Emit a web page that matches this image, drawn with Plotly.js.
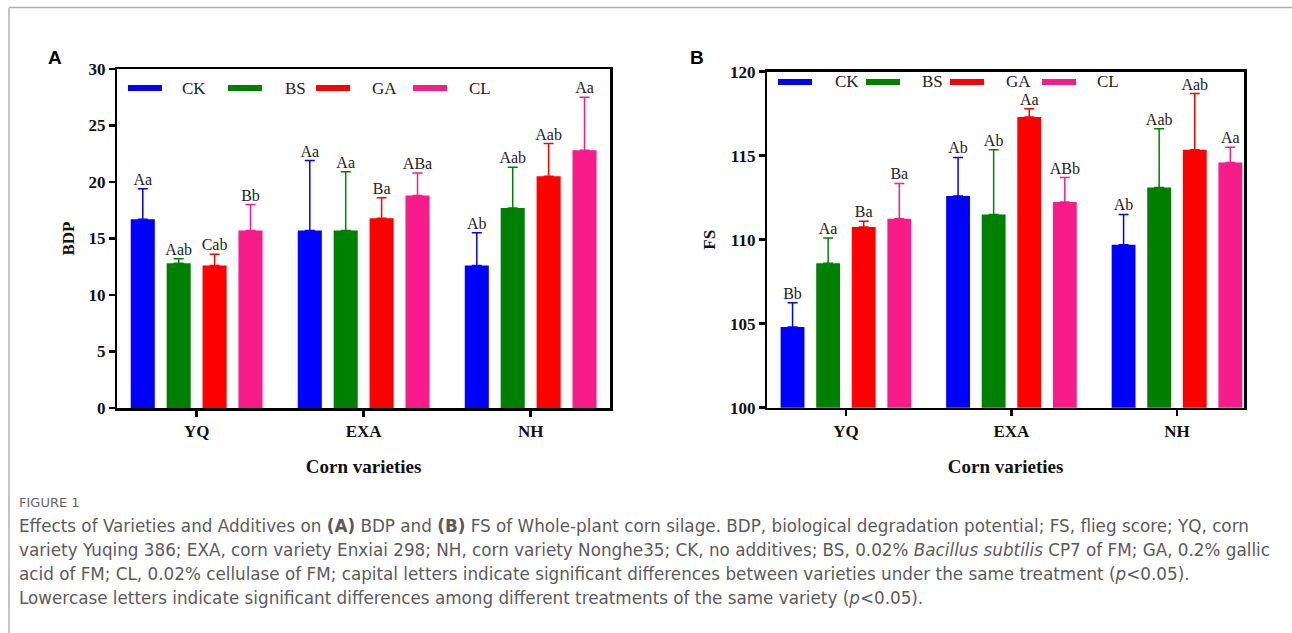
<!DOCTYPE html>
<html><head><meta charset="utf-8">
<script src="https://cdn.plot.ly/plotly-3.0.1.min.js"></script>
<style>html,body{margin:0;padding:0;background:#fff;}#chart{width:1292px;height:633px;}</style>
</head><body><div id="chart"></div>
<script>
// ---------- data ----------
const categories = ['YQ', 'EXA', 'NH'];
const treatments = ['CK', 'BS', 'GA', 'CL'];
const colors = ['#0000FF', '#008000', '#FF0000', '#F81B8A'];

// Panel A: BDP (mean and upper error)
const bdpCK = [16.7, 15.7, 12.6];   const bdpCKsd = [2.7, 6.2, 2.9];
const bdpBS = [12.8, 15.7, 17.7];   const bdpBSsd = [0.4, 5.2, 3.6];
const bdpGA = [12.6, 16.8, 20.5];   const bdpGAsd = [1.0, 1.8, 2.9];
const bdpCL = [15.7, 18.8, 22.8];   const bdpCLsd = [2.3, 2.0, 4.7];
const bdpCKlet = ['Aa', 'Aa', 'Ab'];
const bdpBSlet = ['Aab', 'Aa', 'Aab'];
const bdpGAlet = ['Cab', 'Ba', 'Aab'];
const bdpCLlet = ['Bb', 'ABa', 'Aa'];

// Panel B: FS
const fsCK = [104.8, 112.6, 109.7];  const fsCKsd = [1.45, 2.3, 1.8];
const fsBS = [108.6, 111.5, 113.1];  const fsBSsd = [1.5, 3.85, 3.5];
const fsGA = [110.75, 117.3, 115.35]; const fsGAsd = [0.35, 0.5, 3.35];
const fsCL = [111.25, 112.25, 114.6]; const fsCLsd = [2.1, 1.45, 0.9];
const fsCKlet = ['Bb', 'Ab', 'Ab'];
const fsBSlet = ['Aa', 'Ab', 'Aab'];
const fsGAlet = ['Ba', 'Aa', 'Aab'];
const fsCLlet = ['Ba', 'ABb', 'Aa'];

// ---------- build ----------
const W = 1292, H = 633;
const px = v => v / W;
const py = v => 1 - v / H;
const SERIF = 'Liberation Serif, Times New Roman, serif';

const panels = [
  {xa: 'x', ya: 'y', means: [bdpCK, bdpBS, bdpGA, bdpCL], sds: [bdpCKsd, bdpBSsd, bdpGAsd, bdpCLsd],
   lets: [bdpCKlet, bdpBSlet, bdpGAlet, bdpCLlet], grp: 'A'},
  {xa: 'x2', ya: 'y2', means: [fsCK, fsBS, fsGA, fsCL], sds: [fsCKsd, fsBSsd, fsGAsd, fsCLsd],
   lets: [fsCKlet, fsBSlet, fsGAlet, fsCLlet], grp: 'B'}
];

const traces = [];
panels.forEach(p => {
  treatments.forEach((t, i) => {
    traces.push({
      type: 'bar', name: t, x: categories, y: p.means[i],
      xaxis: p.xa, yaxis: p.ya, offsetgroup: t, alignmentgroup: p.grp,
      marker: {color: colors[i], line: {width: 0}},
      error_y: {type: 'data', symmetric: false, array: p.sds[i], arrayminus: p.sds[i].map(() => 0),
                color: colors[i], thickness: 1.5, width: 5},
      showlegend: false, hoverinfo: 'x+y'
    });
  });
  treatments.forEach((t, i) => {
    traces.push({
      type: 'scatter', mode: 'text', name: t + ' letters', x: categories,
      y: p.means[i].map((m, j) => m + p.sds[i][j]),
      text: p.lets[i], textposition: 'top center',
      textfont: {family: SERIF, size: 16, color: '#222'},
      xaxis: p.xa, yaxis: p.ya, offsetgroup: t, alignmentgroup: p.grp, orientation: 'v',
      cliponaxis: false, showlegend: false, hoverinfo: 'skip'
    });
  });
});

const axisBase = {
  showline: true, linecolor: '#000', linewidth: 2.5, mirror: true,
  ticks: 'outside', ticklen: 6, tickwidth: 2.5, tickcolor: '#000',
  showgrid: false, zeroline: false,
  tickfont: {family: SERIF, size: 17, color: '#111', weight: 'bold'}
};
const xTitle = {text: 'Corn varieties', font: {family: SERIF, size: 19, color: '#111', weight: 'bold'}, standoff: 20};

const layout = {
  width: W, height: H, margin: {l: 0, r: 0, t: 0, b: 0},
  paper_bgcolor: '#fff', plot_bgcolor: '#fff',
  barmode: 'group', bargap: 0.14, bargroupgap: 0.33,
  scattermode: 'group', scattergap: 0.14,
  showlegend: false,
  xaxis: Object.assign({}, axisBase, {domain: [px(117.3), px(610)], range: [-0.475, 2.475], type: 'category',
    title: xTitle, anchor: 'y'}),
  yaxis: Object.assign({}, axisBase, {domain: [py(408), py(69)], range: [0, 30], dtick: 5, anchor: 'x',
    title: {text: 'BDP', font: {family: SERIF, size: 17, color: '#111', weight: 'bold'}, standoff: 10}}),
  xaxis2: Object.assign({}, axisBase, {domain: [px(767.3), px(1244)], range: [-0.475, 2.405], type: 'category',
    title: xTitle, anchor: 'y2'}),
  yaxis2: Object.assign({}, axisBase, {domain: [py(407.7), py(71.7)], range: [100, 120], dtick: 5, anchor: 'x2',
    title: {text: 'FS', font: {family: SERIF, size: 17, color: '#111', weight: 'bold'}, standoff: 10}}),
  shapes: [], annotations: []
};

// frame lines
layout.shapes.push({type: 'line', xref: 'paper', yref: 'paper', x0: px(9), x1: 1, y0: py(7.5), y1: py(7.5), line: {color: '#b0b0b0', width: 1.5}});
layout.shapes.push({type: 'line', xref: 'paper', yref: 'paper', x0: px(9), x1: px(9), y0: py(7.5), y1: 0, line: {color: '#b0b0b0', width: 1.5}});

// manual legends (positions in pixels)
const legendA = {sw: [128, 228, 316, 413], tx: [180, 283, 370, 467], y: 88};
const legendB = {sw: [778, 866, 950, 1042], tx: [833, 920, 1004, 1095], y: 82};
[legendA, legendB].forEach(L => {
  treatments.forEach((t, i) => {
    layout.shapes.push({type: 'rect', xref: 'paper', yref: 'paper', x0: px(L.sw[i]), x1: px(L.sw[i] + 34),
      y0: py(L.y + 3), y1: py(L.y - 3), fillcolor: colors[i], line: {width: 0}});
    layout.annotations.push({xref: 'paper', yref: 'paper', x: px(L.tx[i]), y: py(L.y), xanchor: 'left', yanchor: 'middle',
      text: t, showarrow: false, font: {family: SERIF, size: 17, color: '#222'}});
  });
});

// panel letters
layout.annotations.push({xref: 'paper', yref: 'paper', x: px(55), y: py(57), text: '<b>A</b>', showarrow: false,
  xanchor: 'center', yanchor: 'middle', font: {family: 'Liberation Sans, Arial, sans-serif', size: 19, color: '#000'}});
layout.annotations.push({xref: 'paper', yref: 'paper', x: px(697), y: py(57), text: '<b>B</b>', showarrow: false,
  xanchor: 'center', yanchor: 'middle', font: {family: 'Liberation Sans, Arial, sans-serif', size: 19, color: '#000'}});

// caption
const CAP = 'DejaVu Sans, Open Sans, sans-serif';
layout.annotations.push({xref: 'paper', yref: 'paper', x: px(17), y: py(503), xanchor: 'left', yanchor: 'middle',
  text: 'FIGURE 1', showarrow: false, font: {family: CAP, size: 13, color: '#666'}});
const captionLines = [
  'Effects of Varieties and Additives on <b>(A)</b> BDP and <b>(B)</b> FS of Whole-plant corn silage. BDP, biological degradation potential; FS, flieg score; YQ, corn',
  'variety Yuqing 386; EXA, corn variety Enxiai 298; NH, corn variety Nonghe35; CK, no additives; BS, 0.02% <i>Bacillus subtilis</i> CP7 of FM; GA, 0.2% gallic',
  'acid of FM; CL, 0.02% cellulase of FM; capital letters indicate significant differences between varieties under the same treatment (<i>p</i>&lt;0.05).',
  'Lowercase letters indicate significant differences among different treatments of the same variety (<i>p</i>&lt;0.05).'
];
captionLines.forEach((s, k) => {
  layout.annotations.push({xref: 'paper', yref: 'paper', x: px(17), y: py(526 + 24 * k), xanchor: 'left', yanchor: 'middle',
    text: s, showarrow: false, font: {family: CAP, size: 16.8, color: '#5a5a5a'}});
});

Plotly.newPlot('chart', traces, layout, {displayModeBar: false, staticPlot: true});
</script>
</body></html>
